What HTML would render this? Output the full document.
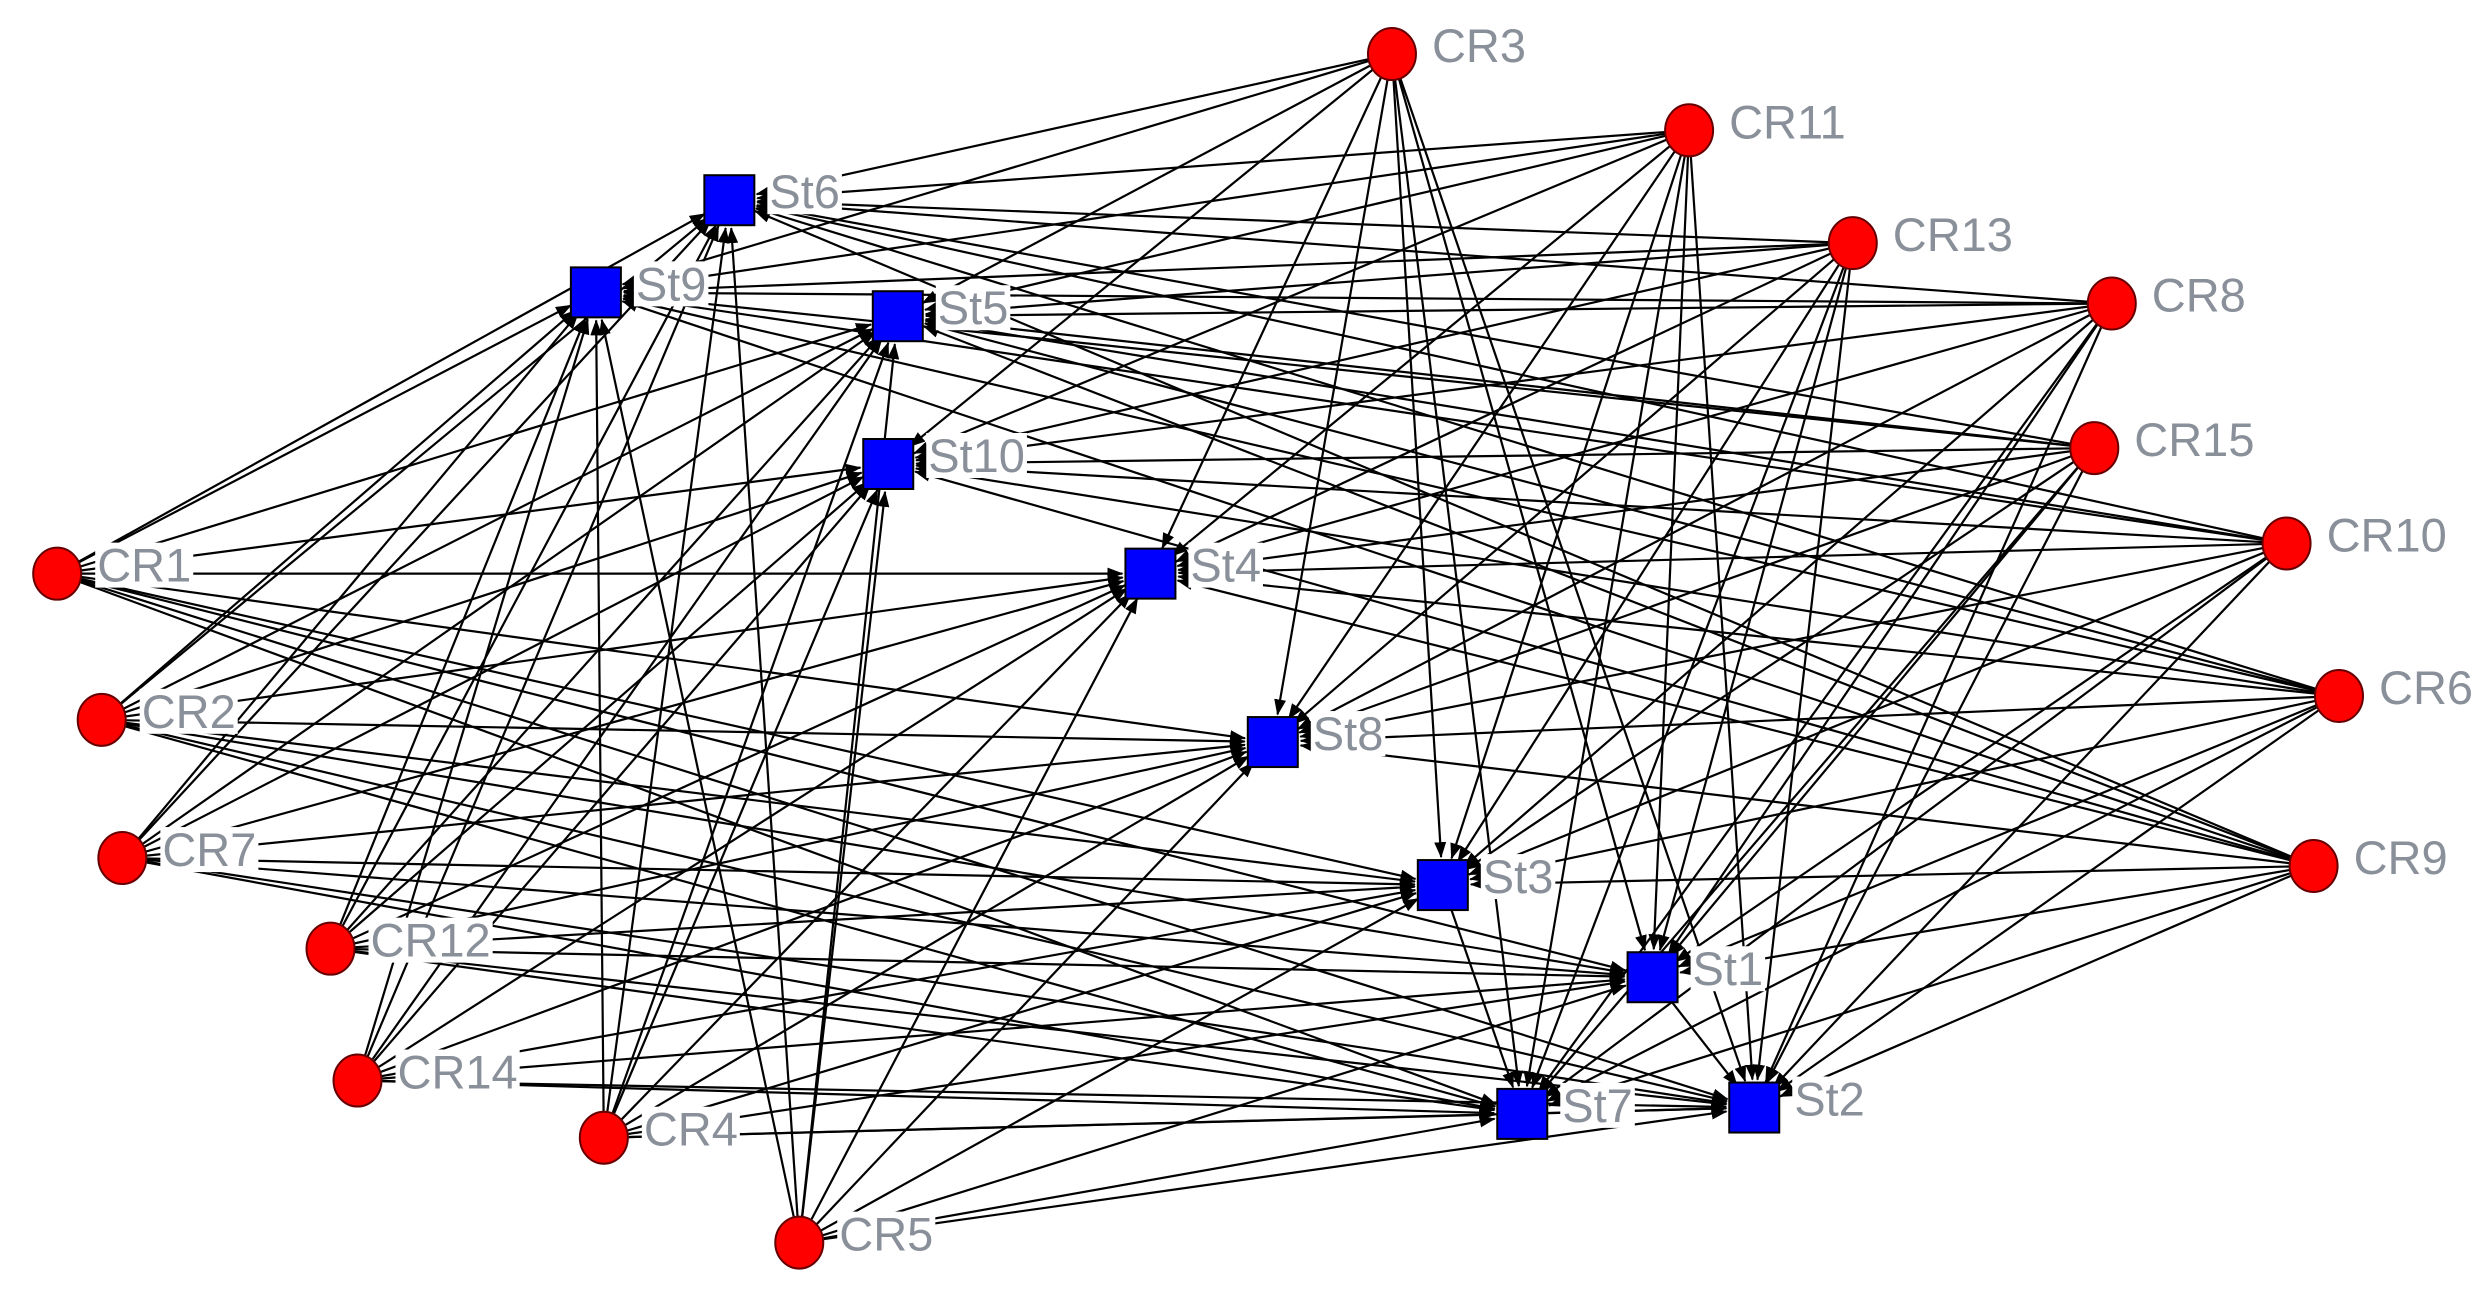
<!DOCTYPE html>
<html><head><meta charset="utf-8"><style>
html,body{margin:0;padding:0;background:#fff;}
svg{display:block;}
text{font-family:"Liberation Sans","DejaVu Sans",sans-serif;font-size:47px;fill:#8a9099;}
</style></head><body>
<svg id="s" width="2492" height="1297" viewBox="0 0 2492 1297" xmlns="http://www.w3.org/2000/svg">
<defs><marker id="a" markerWidth="16" markerHeight="12" refX="15" refY="6" orient="auto" markerUnits="userSpaceOnUse"><path d="M0,0 L16,6 L0,12 z" fill="#000"/></marker></defs>
<g id="edges" stroke="#000" stroke-width="2.2"></g>
<g id="nodes"></g>
<g id="bg"></g>
<g id="labels">
<text>CR3</text>
<text>CR11</text>
<text>CR13</text>
<text>CR8</text>
<text>CR15</text>
<text>CR10</text>
<text>CR6</text>
<text>CR9</text>
<text>CR1</text>
<text>CR2</text>
<text>CR7</text>
<text>CR12</text>
<text>CR14</text>
<text>CR4</text>
<text>CR5</text>
<text>St6</text>
<text>St9</text>
<text>St5</text>
<text>St10</text>
<text>St4</text>
<text>St8</text>
<text>St3</text>
<text>St1</text>
<text>St7</text>
<text>St2</text>
</g>
</svg>
<script>
var sx=1.589,sy=1.589;
var CR=[[876,34],[1063,82],[1166,153],[1329,191],[1318,282],[1439,342],[1472,438],[1456,545],[36,361],[64,453],[77,540],[208,597],[225,680],[380,716],[503,782]];
var ST=[[459,126],[375,184],[565,199],[559,292],[724,361],[801,467],[908,557],[1040,615],[958,701],[1104,697]];
CR=CR.map(p=>[p[0]*sx,p[1]*sy]);ST=ST.map(p=>[p[0]*sx,p[1]*sy]);
var ns="http://www.w3.org/2000/svg",E=document.getElementById('edges'),N=document.getElementById('nodes'),B=document.getElementById('bg');
function line(a,b,r){var dx=b[0]-a[0],dy=b[1]-a[1],d=Math.hypot(dx,dy);
var l=document.createElementNS(ns,'line');l.setAttribute('x1',a[0]);l.setAttribute('y1',a[1]);
l.setAttribute('x2',b[0]-dx/d*r);l.setAttribute('y2',b[1]-dy/d*r);l.setAttribute('marker-end','url(#a)');E.appendChild(l);}
CR.forEach(c=>ST.forEach(s=>line(c,s,28)));
line(ST[8],ST[9],28);line(ST[6],ST[8],28);line(ST[7],ST[9],28);
CR.forEach(c=>{var e=document.createElementNS(ns,'ellipse');e.setAttribute('cx',c[0]);e.setAttribute('cy',c[1]);e.setAttribute('rx',24);e.setAttribute('ry',26);e.setAttribute('fill','#f00');e.setAttribute('stroke','#600');e.setAttribute('stroke-width',2);N.appendChild(e);});
ST.forEach(c=>{var e=document.createElementNS(ns,'rect');e.setAttribute('x',c[0]-25);e.setAttribute('y',c[1]-25);e.setAttribute('width',50);e.setAttribute('height',50);e.setAttribute('fill','#0000ff');e.setAttribute('stroke','#000');e.setAttribute('stroke-width',2);N.appendChild(e);});
var all=CR.concat(ST),T=document.querySelectorAll('#labels text');
T.forEach((t,i)=>{t.setAttribute('x',all[i][0]+40);t.setAttribute('y',all[i][1]+8);
var b=t.getBBox();var r=document.createElementNS(ns,'rect');r.setAttribute('x',b.x-2);r.setAttribute('y',b.y+4);r.setAttribute('width',b.width+4);r.setAttribute('height',b.height-8);r.setAttribute('fill','#fff');B.appendChild(r);});
</script>
</body></html>
